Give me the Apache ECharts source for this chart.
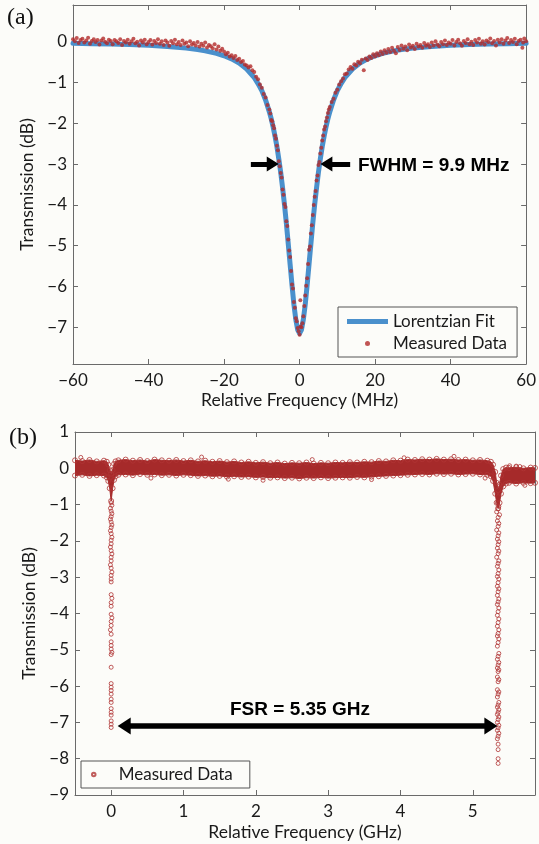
<!DOCTYPE html>
<html><head><meta charset="utf-8">
<script src="https://cdn.jsdelivr.net/npm/echarts@6/dist/echarts.min.js"></script>
<style>html,body{margin:0;padding:0;background:#fcfcf9}#c{width:539px;height:844px}</style>
</head><body><div id="c"></div>
<script>
// ---------- Panel (a) ----------
const xTicksA = [-60, -40, -20, 0, 20, 40, 60];
const yTicksA = [0, -1, -2, -3, -4, -5, -6, -7];
const fitX = [-60,-55,-50,-45,-40,-35,-30,-27,-25,-22,-20,-18,-16,-14,-12,-11,-10,-9,-8,-7.5,-7,-6.5,-6,-5.5,-5,-4.5,-4,-3.5,-3,-2.5,-2,-1.5,-1,-0.5,0,0.5,1,1.5,2,2.5,3,3.5,4,4.5,5,5.5,6,6.5,7,7.5,8,9,10,11,12,14,16,18,20,22,25,27,30,35,40,45,50,55,60];
const fitY = [-0.04,-0.047,-0.057,-0.07,-0.089,-0.116,-0.157,-0.193,-0.224,-0.287,-0.345,-0.421,-0.524,-0.669,-0.882,-1.025,-1.2,-1.43,-1.72,-1.89,-2.09,-2.32,-2.57,-2.87,-3.2,-3.58,-3.99,-4.45,-4.95,-5.46,-5.97,-6.44,-6.81,-7.06,-7.15,-7.06,-6.81,-6.44,-5.97,-5.46,-4.95,-4.45,-3.99,-3.58,-3.2,-2.87,-2.57,-2.32,-2.09,-1.89,-1.72,-1.43,-1.2,-1.025,-0.882,-0.669,-0.524,-0.421,-0.345,-0.287,-0.224,-0.193,-0.157,-0.116,-0.089,-0.07,-0.057,-0.047,-0.04];
const measuredA = [
[-60,0.06],[-59.5,0.01],[-59,0.09],[-58.5,-0.03],[-58,0.04],[-57.5,0.07],[-57,-0.02],[-56.5,0.03],[-56,0.10],[-55.5,-0.05],
[-55,0.02],[-54.5,0.06],[-54,-0.01],[-53.5,0.04],[-53,-0.07],[-52.5,0.03],[-52,0.08],[-51.5,0.00],[-51,-0.04],[-50.5,0.05],
[-50,0.02],[-49.5,-0.06],[-49,0.04],[-48.5,0.01],[-48,-0.03],[-47.5,0.06],[-47,-0.08],[-46.5,0.02],[-46,-0.02],[-45.5,0.05],
[-45,-0.05],[-44.5,0.01],[-44,0.07],[-43.5,-0.04],[-43,0.00],[-42.5,-0.09],[-42,0.03],[-41.5,-0.02],[-41,0.05],[-40.5,-0.06],
[-40,-0.01],[-39.5,0.04],[-39,-0.07],[-38.5,0.02],[-38,-0.03],[-37.5,0.06],[-37,-0.05],[-36.5,0.01],[-36,-0.08],[-35.5,0.03],
[-35,-0.02],[-34.5,-0.10],[-34,0.02],[-33.5,-0.04],[-33,0.05],[-32.5,-0.06],[-32,-0.01],[-31.5,-0.08],[-31,0.03],[-30.5,-0.05],
[-30,-0.02],[-29.5,-0.11],[-29,0.01],[-28.5,-0.07],[-28,-0.03],[-27.5,-0.09],[-27,-0.01],[-26.5,-0.12],[-26,-0.05],[-25.5,-0.10],
[-25,-0.02],[-24.5,-0.14],[-24,-0.08],[-23.5,-0.11],[-23,-0.16],[-22.5,-0.06],[-22,-0.19],[-21.5,-0.12],[-21,-0.22],[-20.5,-0.17],
[-20,-0.24],[-19.5,-0.31],[-19,-0.27],[-18.5,-0.36],[-18,-0.33],[-17.5,-0.40],[-17,-0.35],[-16.5,-0.45],[-16,-0.42],[-15.5,-0.50],
[-15,-0.47],[-14.5,-0.56],[-14,-0.58],[-13.5,-0.63],[-13,-0.60],[-12.5,-0.70],[-12,-0.74],[-11.5,-0.86],[-11,-0.92],[-10.5,-1.05],
[-10,-1.13],[-9.5,-1.28],[-9,-1.37],[-8.5,-1.55],[-8,-1.66],
[-7.75,-1.76],[-7.5,-1.92],[-7.25,-1.95],[-7,-2.05],[-6.75,-2.12],[-6.5,-2.30],[-6.25,-2.38],[-6,-2.55],[-5.75,-2.66],[-5.5,-2.93],
[-5.25,-3.05],[-5,-3.22],[-4.75,-3.33],[-4.5,-3.62],[-4.25,-3.75],[-4,-3.98],[-3.75,-4.05],[-3.5,-4.40],[-3.25,-4.52],[-3,-4.85],
[-2.75,-5.12],[-2.5,-5.28],[-2.25,-5.62],[-2,-5.95],[-1.75,-6.05],[-1.5,-6.38],[-1.25,-6.52],[-1,-6.78],[-0.75,-6.85],[-0.5,-7.02],
[-0.25,-7.10],[0,-7.18],[0.2,-6.34],[0.25,-6.98],[0.5,-7.00],[0.75,-6.90],[1,-6.73],[1.25,-6.48],[1.5,-6.22],[1.75,-5.98],[2,-5.80],
[2.25,-5.45],[2.5,-5.10],[2.75,-5.02],[3,-4.70],[3.25,-4.50],[3.5,-4.25],[3.75,-4.00],[4,-3.80],[4.25,-3.66],[4.5,-3.40],
[4.75,-3.28],[5,-3.02],[5.25,-2.95],[5.5,-2.74],[5.75,-2.60],[6,-2.42],[6.25,-2.30],[6.5,-2.15],[6.75,-2.08],[7,-1.95],
[7.25,-1.86],[7.5,-1.75],[7.75,-1.66],
[8,-1.60],[8.5,-1.48],[9,-1.40],[9.5,-1.25],[10,-1.18],[10.5,-1.05],[11,-0.97],[11.5,-0.90],[12,-0.80],[12.5,-0.78],
[13,-0.68],[13.5,-0.62],[14,-0.66],[14.5,-0.55],[15,-0.58],[15.5,-0.49],[16,-0.53],[16.5,-0.44],[17,-0.70],[17.5,-0.41],
[18,-0.45],[18.5,-0.36],[19,-0.40],[19.5,-0.31],[20,-0.36],[20.5,-0.28],[21,-0.33],[21.5,-0.24],[22,-0.30],[22.5,-0.21],
[23,-0.27],[23.5,-0.18],[24,-0.25],[24.5,-0.15],[25,-0.22],[25.5,-0.28],[26,-0.13],[26.5,-0.20],[27,-0.09],[27.5,-0.17],
[28,-0.12],[28.5,-0.21],[29,-0.07],[29.5,-0.14],[30,-0.10],[30.5,-0.18],[31,-0.05],[31.5,-0.12],[32,-0.08],[32.5,-0.15],
[33,-0.03],[33.5,-0.10],[34,-0.06],[34.5,-0.13],[35,-0.02],[35.5,-0.09],[36,0.01],[36.5,-0.07],[37,-0.11],[37.5,-0.01],
[38,-0.06],[38.5,0.03],[39,-0.08],[39.5,-0.02],[40,-0.05],[40.5,0.04],[41,-0.09],[41.5,-0.01],[42,0.05],[42.5,-0.04],
[43,-0.10],[43.5,0.02],[44,-0.03],[44.5,0.06],[45,-0.06],[45.5,0.00],[46,-0.08],[46.5,0.04],[47,-0.02],[47.5,0.07],
[48,-0.05],[48.5,0.01],[49,-0.07],[49.5,0.03],[50,-0.01],[50.5,0.08],[51,-0.04],[51.5,0.02],[52,-0.09],[52.5,0.05],
[53,-0.02],[53.5,0.06],[54,-0.05],[54.5,0.03],[55,0.09],[55.5,-0.03],[56,0.04],[56.5,-0.01],[57,0.07],[57.5,-0.06],
[58,0.02],[58.5,0.05],[59,-0.15],[59.2,-0.02],[59.5,0.08],[60,0.01]
];
const fwhmLeft = [[-12.9,-3],[-7.1,-3]];
const fwhmRight = [[13.4,-3],[7.1,-3]];

// ---------- Panel (b) ----------
const xTicksB = [0, 1, 2, 3, 4, 5];
const bandX = [-0.5,-0.4,-0.3,-0.2,-0.1,-0.06,-0.04,-0.02,0,0.02,0.04,0.06,0.1,0.2,0.3,0.4,0.5,0.6,0.7,0.8,0.9,1.0,1.1,1.2,1.3,1.4,1.5,1.6,1.7,1.8,1.9,2.0,2.1,2.2,2.3,2.4,2.5,2.6,2.7,2.8,2.9,3.0,3.1,3.2,3.3,3.4,3.5,3.6,3.7,3.8,3.9,4.0,4.1,4.2,4.3,4.4,4.5,4.6,4.7,4.8,4.9,5.0,5.1,5.2,5.25,5.28,5.31,5.33,5.35,5.37,5.39,5.42,5.46,5.5,5.6,5.7,5.8,5.86];
const bandTop = [0.22,0.20,0.23,0.19,0.21,0.18,0.10,-0.05,-0.15,-0.05,0.12,0.19,0.22,0.24,0.21,0.23,0.20,0.24,0.22,0.21,0.23,0.20,0.22,0.19,0.21,0.18,0.20,0.17,0.19,0.16,0.18,0.15,0.17,0.14,0.16,0.13,0.15,0.14,0.16,0.13,0.15,0.14,0.16,0.15,0.17,0.16,0.18,0.17,0.20,0.19,0.22,0.21,0.24,0.23,0.25,0.24,0.26,0.24,0.25,0.23,0.24,0.22,0.23,0.21,0.18,0.10,-0.10,-0.40,-0.60,-0.45,-0.20,-0.02,0.02,0.01,0.03,0.00,0.02,0.01];
const bandBot = [-0.20,-0.18,-0.21,-0.19,-0.20,-0.25,-0.35,-0.55,-0.90,-0.55,-0.32,-0.22,-0.18,-0.17,-0.19,-0.16,-0.18,-0.17,-0.19,-0.18,-0.20,-0.18,-0.19,-0.21,-0.20,-0.22,-0.21,-0.23,-0.22,-0.24,-0.23,-0.25,-0.24,-0.26,-0.25,-0.27,-0.26,-0.28,-0.26,-0.27,-0.25,-0.27,-0.26,-0.25,-0.26,-0.24,-0.25,-0.23,-0.22,-0.21,-0.20,-0.19,-0.18,-0.17,-0.16,-0.17,-0.15,-0.16,-0.15,-0.17,-0.16,-0.15,-0.17,-0.18,-0.22,-0.35,-0.70,-0.95,-1.10,-0.95,-0.70,-0.50,-0.42,-0.40,-0.42,-0.40,-0.41,-0.40];
const dip0 = [[0,-0.95],[0.01,-1.02],[-0.01,-1.10],[0,-1.18],[0.01,-1.25],[0,-1.33],[-0.01,-1.40],[0,-1.48],[0.01,-1.56],[0,-1.63],[-0.01,-1.72],[0,-1.80],[0.01,-1.90],[0,-1.98],[0,-2.08],[-0.01,-2.17],[0,-2.27],[0.01,-2.36],[0,-2.45],[0,-2.55],[-0.01,-2.66],[0,-2.75],[0.01,-2.86],[0,-2.95],[0,-3.05],[0,-3.13],[0,-3.48],[0.01,-3.58],[0,-3.70],[0,-3.80],[0,-4.02],[0.01,-4.12],[0,-4.22],[0,-4.33],[-0.01,-4.45],[0,-4.57],[0,-4.78],[0,-4.88],[0,-4.98],[0.01,-5.07],[0,-5.13],[0,-5.48],[0,-5.93],[0,-6.03],[0,-6.12],[0,-6.22],[0,-6.36],[0,-6.45],[0,-6.62],[0,-6.72],[0,-6.80],[0,-6.96],[0,-7.05],[0,-7.14]];
const dip535 = [[5.34,-0.95],[5.36,-1.05],[5.35,-1.12],[5.33,-1.2],[5.37,-1.28],[5.35,-1.35],[5.34,-1.45],[5.36,-1.52],[5.35,-1.6],[5.33,-1.7],[5.36,-1.78],[5.35,-1.86],[5.34,-1.95],[5.36,-2.02],[5.35,-2.1],[5.34,-2.2],[5.36,-2.28],[5.35,-2.35],[5.33,-2.45],[5.36,-2.55],[5.35,-2.62],[5.34,-2.7],[5.36,-2.8],[5.35,-2.9],[5.34,-2.98],[5.36,-3.05],[5.35,-3.15],[5.34,-3.25],[5.36,-3.32],[5.35,-3.4],[5.34,-3.5],[5.36,-3.6],[5.35,-3.68],[5.34,-3.75],[5.36,-3.85],[5.35,-3.95],[5.34,-4.05],[5.36,-4.15],[5.35,-4.25],[5.34,-4.35],[5.36,-4.45],[5.35,-4.55],[5.34,-4.62],[5.36,-4.7],[5.35,-4.8],[5.34,-4.9],[5.36,-5.1],[5.35,-5.18],[5.34,-5.26],[5.36,-5.35],[5.35,-5.42],[5.34,-5.5],[5.36,-5.55],[5.35,-5.6],[5.34,-5.75],[5.36,-5.82],[5.35,-5.88],[5.34,-6.1],[5.36,-6.16],[5.35,-6.22],[5.34,-6.3],[5.36,-6.45],[5.35,-6.52],[5.34,-6.58],[5.36,-6.65],[5.35,-6.72],[5.34,-6.78],[5.36,-6.85],[5.35,-6.92],[5.34,-7.0],[5.36,-7.08],[5.35,-7.15],[5.34,-7.22],[5.36,-7.3],[5.35,-7.38],[5.34,-7.45],[5.35,-7.6],[5.35,-7.75],[5.35,-8.0],[5.35,-8.13]];
const outliersB = [[-0.42,0.30],[0.55,-0.27],[1.25,0.31],[1.62,-0.30],[2.1,-0.33],[2.78,0.24],[3.6,-0.31],[4.05,0.29],[4.74,0.33],[5.17,-0.27],[5.51,0.07],[5.6,0.06],[5.65,0.05],[5.72,-0.47]];
const fsrArrow = [[0.18,-7.1],[5.25,-7.1]];

// ---------- build ----------
const FONT = 'Lato';
const AX = '#6a6a6a';
const TXT = '#1a1a1a';
const RED = '#b22a2a';
const fmt = v => String(v).replace('-', '\u2212');
const bandEdge = bandX.map((x,i)=>[x,bandTop[i]]).concat(bandX.map((x,i)=>[x,bandBot[i]]));

function mirrorX(grid, min, max, opts) {
  return Object.assign({gridIndex: grid, type:'value', position:'top', min, max,
    axisLine:{show:true, onZero:false, lineStyle:{color:AX, width:1}}, axisTick:{show:true, inside:true, length:5, lineStyle:{color:AX}},
    axisLabel:{show:false}, splitLine:{show:false}}, opts);
}
function mirrorY(grid, min, max, opts) {
  return Object.assign({gridIndex: grid, type:'value', position:'right', min, max,
    axisLine:{show:true, onZero:false, lineStyle:{color:AX, width:1}}, axisTick:{show:true, inside:true, length:5, lineStyle:{color:AX}},
    axisLabel:{show:false}, splitLine:{show:false}}, opts);
}
const labelStyle = {fontFamily: FONT, fontSize: 17, color: TXT};
const nameStyle = {fontFamily: FONT, fontSize: 17.5, color: TXT};

const chart = echarts.init(document.getElementById('c'), null, {renderer:'canvas'});
chart.setOption({
  animation:false,
  backgroundColor:'#fcfcf9',
  grid:[
    {left:73, right:10, top:5, bottom:480},
    {left:75, right:4, top:432, bottom:49}
  ],
  xAxis:[
    {gridIndex:0, type:'value', min:-60, max:60, interval:20,
     axisLine:{show:true, onZero:false, lineStyle:{color:AX}}, axisTick:{inside:true, length:5, lineStyle:{color:AX}},
     axisLabel:Object.assign({margin:8, formatter:fmt}, labelStyle), splitLine:{show:false},
     name:'Relative Frequency (MHz)', nameLocation:'middle', nameGap:27, nameTextStyle:nameStyle},
    mirrorX(0, -60, 60, {interval:20}),
    {gridIndex:1, type:'value', min:-0.5, max:5.86,
     axisLine:{show:true, onZero:false, lineStyle:{color:AX}},
     axisTick:{inside:true, length:5, lineStyle:{color:AX}, customValues:xTicksB},
     axisLabel:Object.assign({margin:8, formatter:fmt, customValues:xTicksB}, labelStyle), splitLine:{show:false},
     name:'Relative Frequency (GHz)', nameLocation:'middle', nameGap:28, nameTextStyle:nameStyle},
    mirrorX(1, -0.5, 5.86, {axisTick:{show:true, inside:true, length:5, lineStyle:{color:AX}, customValues:xTicksB}})
  ],
  yAxis:[
    {gridIndex:0, type:'value', min:-7.9, max:0.9,
     axisLine:{show:true, onZero:false, lineStyle:{color:AX}},
     axisTick:{inside:true, length:5, lineStyle:{color:AX}, customValues:yTicksA},
     axisLabel:Object.assign({margin:6, formatter:fmt, customValues:yTicksA}, labelStyle), splitLine:{show:false},
     name:'Transmission (dB)', nameLocation:'middle', nameGap:30, nameTextStyle:nameStyle},
    mirrorY(0, -7.9, 0.9, {axisTick:{show:true, inside:true, length:5, lineStyle:{color:AX}, customValues:yTicksA}}),
    {gridIndex:1, type:'value', min:-9, max:1, interval:1,
     axisLine:{show:true, onZero:false, lineStyle:{color:AX}}, axisTick:{inside:true, length:5, lineStyle:{color:AX}},
     axisLabel:Object.assign({margin:6, formatter:fmt}, labelStyle), splitLine:{show:false},
     name:'Transmission (dB)', nameLocation:'middle', nameGap:32, nameTextStyle:nameStyle},
    mirrorY(1, -9, 1, {interval:1})
  ],
  legend:[
    {data:[{name:'Lorentzian Fit', icon:'rect'}, {name:'Measured Data', icon:'circle'}],
     orient:'vertical', left:338, top:307, padding:[6,10,5,9], itemWidth:41, itemHeight:5, itemGap:5,
     borderColor:'#555', borderWidth:1, backgroundColor:'#fcfcf9', selectedMode:false,
     textStyle:{fontFamily:FONT, fontSize:17, color:TXT}},
    {data:[{name:'Measured Data (b)', icon:'circle'}], formatter:()=> 'Measured Data',
     orient:'vertical', left:81, top:761, padding:[5,17,5,10], itemWidth:40, itemHeight:3.5,
     borderColor:'#555', borderWidth:1, backgroundColor:'#fcfcf9', selectedMode:false,
     textStyle:{fontFamily:FONT, fontSize:17, color:TXT}}
  ],
  series:[
    {name:'Lorentzian Fit', type:'line', xAxisIndex:0, yAxisIndex:0, color:'#4a90cc',
     data: fitX.map((x,i)=>[x, fitY[i]]), showSymbol:false, symbol:'none',
     lineStyle:{width:5, color:'#4a90cc', join:'round', cap:'round'}, z:2,
     markLine:{silent:true, symbol:['none','triangle'], symbolSize:[15,12],
       lineStyle:{color:'#000', width:5, type:'solid'}, label:{show:false},
       data:[[{coord:fwhmLeft[0]},{coord:fwhmLeft[1]}],[{coord:fwhmRight[0]},{coord:fwhmRight[1]}]]}},
    {name:'Measured Data', type:'scatter', xAxisIndex:0, yAxisIndex:0, data:measuredA,
     symbol:'circle', symbolSize:4, itemStyle:{color:RED}, z:3},
    {name:'band', type:'custom', xAxisIndex:2, yAxisIndex:2, data:[[0,0]], clip:true, silent:true, z:2,
     renderItem:function(params, api){
       const pts=[];
       for(let i=0;i<bandX.length;i++) pts.push(api.coord([bandX[i], bandTop[i]]));
       for(let i=bandX.length-1;i>=0;i--) pts.push(api.coord([bandX[i], bandBot[i]]));
       return {type:'polygon', shape:{points:pts}, style:{fill:'#a62a2a', stroke:'#a62a2a', lineWidth:1}};
     }},
    {name:'bandEdge', type:'scatter', xAxisIndex:2, yAxisIndex:2, data:bandEdge, symbol:'circle', symbolSize:5,
     itemStyle:{color:'rgba(0,0,0,0)', borderColor:'#b03535', borderWidth:1}, z:3, silent:true},
    {name:'Measured Data (b)', type:'scatter', xAxisIndex:2, yAxisIndex:2,
     data: dip0.concat(dip535).concat(outliersB), symbol:'circle', symbolSize:4,
     itemStyle:{color:'rgba(0,0,0,0)', borderColor:'#b03535', borderWidth:1}, z:3,
     markLine:{silent:true, symbol:['triangle','triangle'], symbolSize:[17,13],
       lineStyle:{color:'#000', width:5.5, type:'solid'}, label:{show:false},
       data:[[{coord:fsrArrow[0]},{coord:fsrArrow[1]}]]}}
  ],
  graphic:[
    {type:'text', left:7, top:6, style:{text:'(a)', font:'24px "Liberation Serif"', fill:'#111'}},
    {type:'text', left:9, top:426, style:{text:'(b)', font:'24px "Liberation Serif"', fill:'#111'}},
    {type:'text', left:358, top:156, style:{text:'FWHM = 9.9 MHz', font:'bold 19px "Liberation Sans"', fill:'#000'}},
    {type:'text', left:230, top:700, style:{text:'FSR = 5.35 GHz', font:'bold 19px "Liberation Sans"', fill:'#000'}}
  ]
});
</script>
</body></html>
